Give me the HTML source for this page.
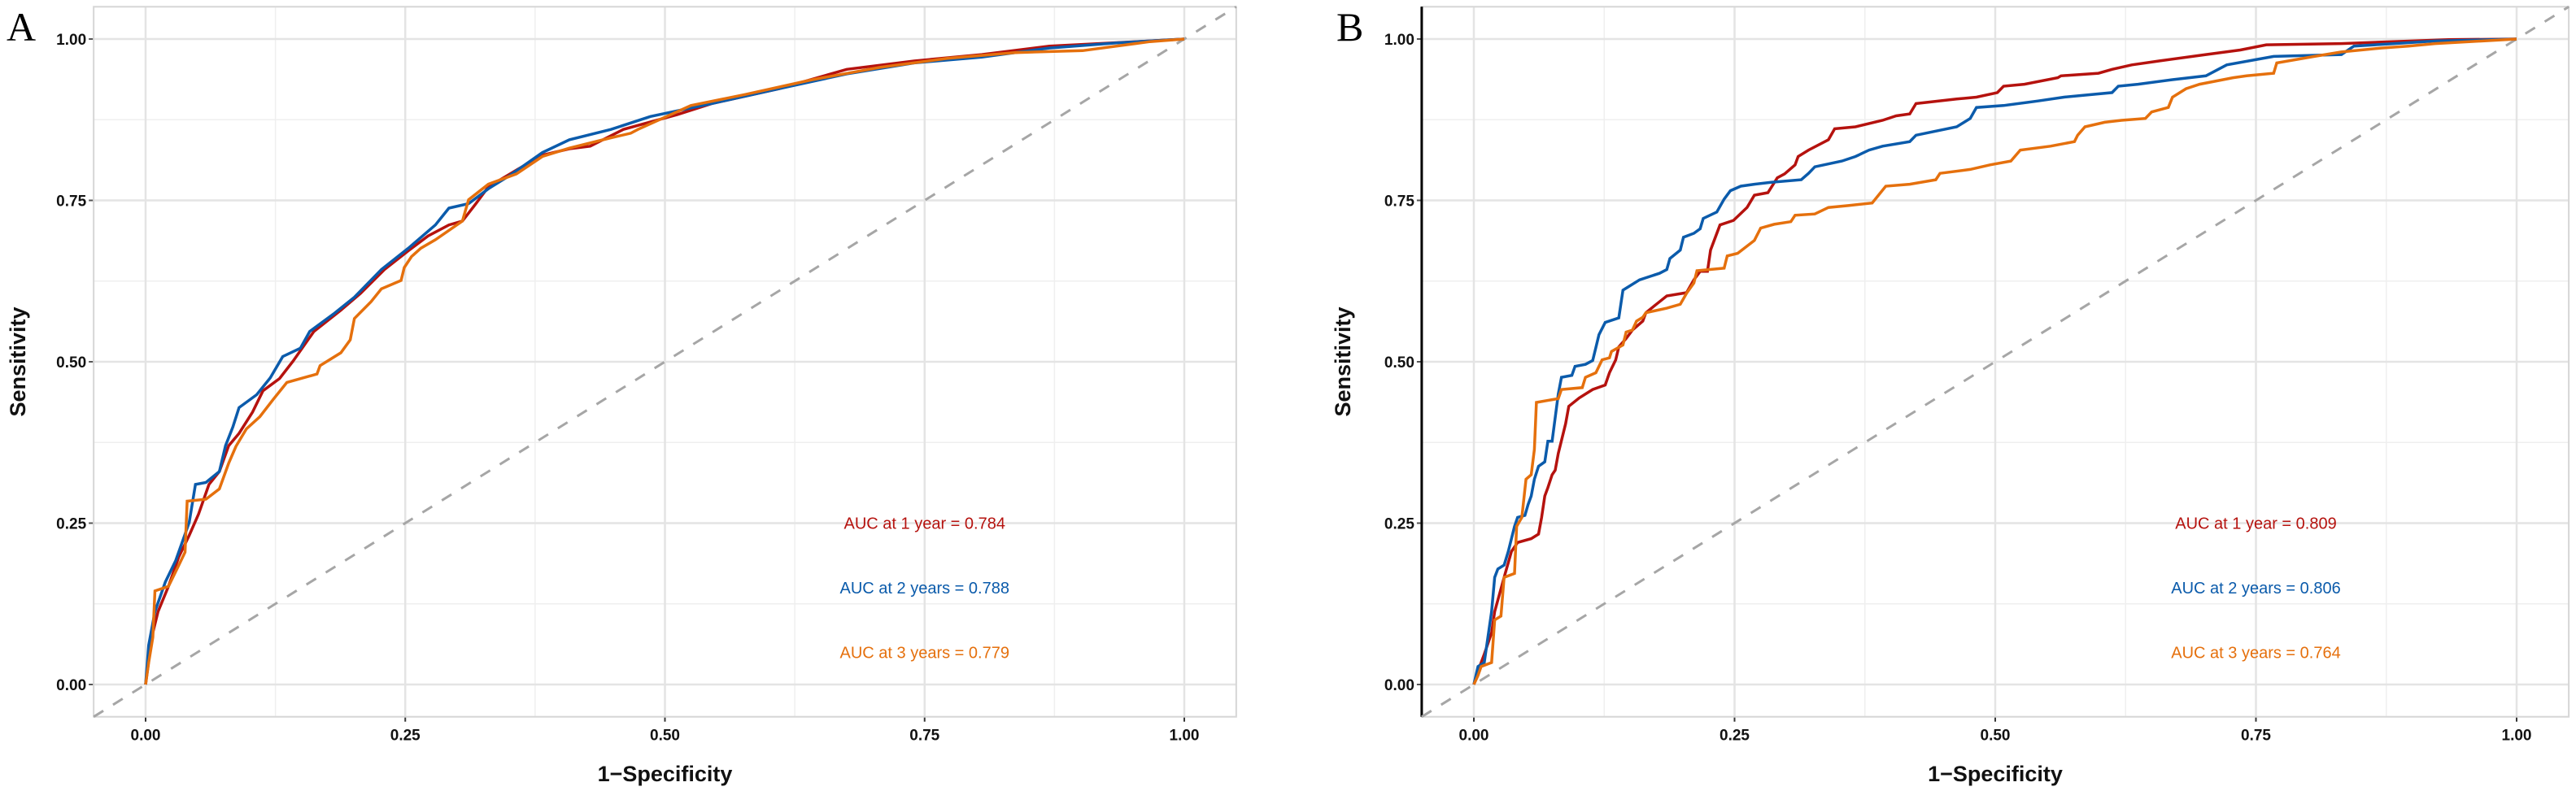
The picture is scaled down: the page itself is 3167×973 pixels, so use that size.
<!DOCTYPE html>
<html><head><meta charset="utf-8"><style>
html,body{margin:0;padding:0;background:#fff;}
svg{display:block;font-family:"Liberation Sans",sans-serif;}
</style></head><body>
<svg id="chart" width="3167" height="973" viewBox="0 0 3167 973" xmlns="http://www.w3.org/2000/svg"></svg>
<script>
// ---- data ----
const tickValues = [0, 0.25, 0.5, 0.75, 1];
const tickLabels = ["0.00", "0.25", "0.50", "0.75", "1.00"];
const panelLabels = ["A", "B"];
const seriesNames = ["1 year", "2 years", "3 years"];
const aucTextA = ["AUC at 1 year = 0.784", "AUC at 2 years = 0.788", "AUC at 3 years = 0.779"];
const aucTextB = ["AUC at 1 year = 0.809", "AUC at 2 years = 0.806", "AUC at 3 years = 0.764"];

const rocA_1yr = [[0,0],[0.006,0.074],[0.012,0.113],[0.022,0.152],[0.032,0.198],[0.042,0.231],[0.051,0.264],[0.061,0.310],[0.071,0.330],[0.080,0.370],[0.090,0.389],[0.103,0.422],[0.113,0.455],[0.129,0.474],[0.142,0.501],[0.162,0.547],[0.188,0.580],[0.207,0.606],[0.230,0.643],[0.253,0.672],[0.272,0.695],[0.292,0.712],[0.305,0.718],[0.318,0.745],[0.330,0.771],[0.357,0.797],[0.382,0.820],[0.408,0.830],[0.428,0.834],[0.460,0.860],[0.512,0.883],[0.545,0.900],[0.610,0.923],[0.675,0.953],[0.740,0.966],[0.805,0.976],[0.870,0.989],[0.954,0.996],[1,1]];
const rocA_2yr = [[0,0],[0.003,0.061],[0.009,0.113],[0.019,0.159],[0.029,0.192],[0.042,0.251],[0.048,0.310],[0.058,0.313],[0.071,0.330],[0.077,0.370],[0.084,0.399],[0.090,0.429],[0.107,0.449],[0.120,0.475],[0.132,0.508],[0.149,0.521],[0.158,0.547],[0.181,0.574],[0.201,0.600],[0.227,0.643],[0.253,0.676],[0.279,0.712],[0.292,0.738],[0.311,0.745],[0.330,0.768],[0.350,0.788],[0.382,0.824],[0.408,0.844],[0.448,0.860],[0.486,0.880],[0.545,0.900],[0.610,0.923],[0.675,0.946],[0.740,0.963],[0.805,0.972],[0.870,0.986],[0.935,0.994],[1,1]];
const rocA_3yr = [[0,0],[0.003,0.034],[0.007,0.073],[0.009,0.145],[0.022,0.152],[0.032,0.185],[0.038,0.205],[0.040,0.284],[0.058,0.287],[0.071,0.303],[0.080,0.343],[0.087,0.369],[0.097,0.396],[0.110,0.415],[0.123,0.442],[0.136,0.468],[0.165,0.481],[0.168,0.494],[0.188,0.514],[0.197,0.534],[0.201,0.567],[0.217,0.593],[0.227,0.613],[0.246,0.626],[0.249,0.646],[0.256,0.663],[0.265,0.676],[0.279,0.689],[0.305,0.718],[0.311,0.751],[0.330,0.775],[0.357,0.791],[0.382,0.818],[0.408,0.831],[0.448,0.847],[0.467,0.854],[0.474,0.860],[0.525,0.897],[0.577,0.914],[0.642,0.937],[0.707,0.956],[0.772,0.970],[0.837,0.979],[0.902,0.982],[0.967,0.996],[1,1]];

const rocB_1yr = [[0,0],[0.004,0.021],[0.010,0.047],[0.017,0.080],[0.020,0.113],[0.029,0.166],[0.036,0.206],[0.042,0.220],[0.055,0.226],[0.062,0.233],[0.065,0.259],[0.068,0.292],[0.071,0.305],[0.075,0.325],[0.078,0.332],[0.081,0.358],[0.088,0.404],[0.091,0.431],[0.101,0.444],[0.114,0.457],[0.126,0.464],[0.130,0.483],[0.136,0.503],[0.139,0.523],[0.146,0.536],[0.152,0.549],[0.162,0.563],[0.165,0.576],[0.175,0.589],[0.185,0.602],[0.204,0.607],[0.211,0.627],[0.217,0.640],[0.224,0.640],[0.227,0.673],[0.236,0.712],[0.249,0.719],[0.262,0.739],[0.269,0.758],[0.282,0.762],[0.291,0.785],[0.298,0.791],[0.308,0.805],[0.311,0.818],[0.321,0.828],[0.340,0.844],[0.346,0.861],[0.366,0.864],[0.392,0.874],[0.405,0.881],[0.418,0.884],[0.424,0.900],[0.463,0.907],[0.482,0.910],[0.502,0.917],[0.508,0.927],[0.528,0.930],[0.560,0.940],[0.563,0.943],[0.599,0.947],[0.612,0.953],[0.631,0.960],[0.657,0.966],[0.702,0.976],[0.735,0.983],[0.760,0.991],[0.832,0.993],[0.935,0.999],[1,1]];
const rocB_2yr = [[0,0],[0.004,0.028],[0.010,0.034],[0.017,0.113],[0.020,0.166],[0.023,0.179],[0.029,0.185],[0.033,0.206],[0.039,0.245],[0.042,0.259],[0.049,0.262],[0.052,0.279],[0.055,0.292],[0.058,0.318],[0.062,0.338],[0.068,0.345],[0.071,0.377],[0.075,0.377],[0.081,0.450],[0.084,0.476],[0.094,0.479],[0.097,0.493],[0.107,0.496],[0.114,0.502],[0.117,0.522],[0.120,0.542],[0.126,0.561],[0.139,0.568],[0.143,0.611],[0.146,0.614],[0.159,0.627],[0.178,0.637],[0.185,0.643],[0.188,0.660],[0.198,0.673],[0.201,0.693],[0.211,0.699],[0.217,0.706],[0.220,0.722],[0.233,0.732],[0.240,0.752],[0.246,0.765],[0.256,0.772],[0.269,0.775],[0.285,0.778],[0.314,0.782],[0.321,0.792],[0.327,0.802],[0.353,0.811],[0.366,0.818],[0.379,0.828],[0.392,0.834],[0.418,0.841],[0.424,0.851],[0.463,0.864],[0.476,0.877],[0.482,0.894],[0.508,0.897],[0.541,0.904],[0.566,0.910],[0.612,0.917],[0.618,0.927],[0.637,0.930],[0.670,0.937],[0.702,0.943],[0.722,0.960],[0.767,0.973],[0.832,0.976],[0.844,0.989],[0.883,0.993],[0.922,0.997],[1,1]];
const rocB_3yr = [[0,0],[0.004,0.014],[0.007,0.028],[0.017,0.034],[0.020,0.100],[0.026,0.106],[0.029,0.166],[0.039,0.172],[0.041,0.245],[0.046,0.259],[0.050,0.318],[0.055,0.325],[0.058,0.364],[0.060,0.437],[0.081,0.443],[0.084,0.457],[0.104,0.460],[0.107,0.476],[0.117,0.483],[0.123,0.503],[0.130,0.506],[0.132,0.516],[0.143,0.526],[0.146,0.546],[0.152,0.549],[0.156,0.563],[0.162,0.569],[0.165,0.576],[0.185,0.583],[0.198,0.589],[0.204,0.606],[0.211,0.622],[0.214,0.641],[0.240,0.645],[0.243,0.664],[0.253,0.668],[0.269,0.688],[0.275,0.707],[0.288,0.713],[0.304,0.717],[0.308,0.727],[0.327,0.729],[0.340,0.739],[0.359,0.742],[0.382,0.746],[0.395,0.772],[0.418,0.775],[0.443,0.782],[0.447,0.792],[0.476,0.798],[0.495,0.805],[0.515,0.811],[0.524,0.828],[0.553,0.834],[0.576,0.841],[0.579,0.851],[0.586,0.864],[0.605,0.871],[0.621,0.874],[0.644,0.877],[0.650,0.887],[0.666,0.894],[0.670,0.910],[0.683,0.923],[0.696,0.930],[0.728,0.940],[0.741,0.943],[0.767,0.947],[0.770,0.963],[0.806,0.973],[0.832,0.980],[0.870,0.986],[0.896,0.989],[0.922,0.993],[1,1]];

const seriesColors = ["#b5120e", "#0b5bab", "#e5700d"];
const NS = "http://www.w3.org/2000/svg";
const svg = document.getElementById("chart");
function mk(tag, attrs, parent){ const e=document.createElementNS(NS,tag); for(const k in attrs) e.setAttribute(k,attrs[k]); (parent||svg).appendChild(e); return e; }

function drawPanel(cfg){
  const g = mk("g", {});
  
  
  const x0=cfg.x0, x1=cfg.x1, y0=842, y1=48;
  const sx = v => x0 + v*(x1-x0);
  const sy = v => y0 - v*(y0-y1);
  const L = sx(-0.05), R = sx(1.05), T = sy(1.05), B = sy(-0.05);
  mk("rect",{x:L,y:T,width:R-L,height:B-T,fill:"#fff"},g);
  [0.125,0.375,0.625,0.875].forEach(v=>{
    mk("line",{x1:sx(v),x2:sx(v),y1:T,y2:B,stroke:"#efefef","stroke-width":1.5},g);
    mk("line",{x1:L,x2:R,y1:sy(v),y2:sy(v),stroke:"#efefef","stroke-width":1.5},g);
  });
  tickValues.forEach((v,i)=>{
    mk("line",{x1:sx(v),x2:sx(v),y1:T,y2:B,stroke:"#e4e4e4","stroke-width":2.5},g);
    mk("line",{x1:L,x2:R,y1:sy(v),y2:sy(v),stroke:"#e4e4e4","stroke-width":2.5},g);
    mk("line",{x1:sx(v),x2:sx(v),y1:B,y2:B+6,stroke:"#333","stroke-width":2},g);
    mk("line",{x1:L-6,x2:L,y1:sy(v),y2:sy(v),stroke:"#555","stroke-width":2},g);
    const tx = mk("text",{x:sx(v),y:B+29,"text-anchor":"middle","font-size":19,"font-weight":"bold",fill:"#111"},g);
    tx.textContent = tickLabels[i];
    
    
    const ty = mk("text",{x:L-9,y:sy(v)+7,"text-anchor":"end","font-size":19,"font-weight":"bold",fill:"#111"},g);
    ty.textContent = tickLabels[i];
    
    
  });
  mk("rect",{x:L,y:T,width:R-L,height:B-T,fill:"none",stroke:"#d6d6d6","stroke-width":2},g);
  if(cfg.blackAxis) mk("line",{x1:L,x2:L,y1:T,y2:B,stroke:"#000","stroke-width":3},g);
  const d = mk("line",{x1:sx(-0.05),y1:sy(-0.05),x2:sx(1.05),y2:sy(1.05),stroke:"#a6a6a6","stroke-width":3,"stroke-dasharray":"14 14"},g);
  
  
  cfg.series.forEach((s,i)=>{
    const p = mk("polyline",{points:s.map(pt=>sx(pt[0]).toFixed(1)+","+sy(pt[1]).toFixed(1)).join(" "),fill:"none",stroke:seriesColors[i],"stroke-width":3.5,"stroke-linejoin":"miter"},g);
    
    
  });
  [0.25,0.15,0.05].forEach((yv,i)=>{
    const t = mk("text",{x:sx(0.75),y:sy(yv)+7,"text-anchor":"middle","font-size":20,fill:seriesColors[i]},g);
    t.textContent = cfg.auc[i];
    
    
  });
  const xt = mk("text",{x:sx(0.5),y:961,"text-anchor":"middle","font-size":27,"font-weight":"bold",fill:"#111"},g);
  xt.textContent = "1\u2212Specificity";
  
  
  const yt = mk("text",{x:0,y:0,"text-anchor":"middle","font-size":27,"font-weight":"bold",fill:"#111",transform:`translate(${cfg.yTitleX},${sy(0.5)}) rotate(-90)`},g);
  yt.textContent = "Sensitivity";
  
  
  const pl = mk("text",{x:cfg.labelX,y:50,"font-size":50,"font-family":"Liberation Serif, serif",fill:"#000"},g);
  pl.textContent = cfg.label;
  
  
}

drawPanel({name:"panel-a",x0:179,x1:1456,series:[rocA_1yr,rocA_2yr,rocA_3yr],auc:aucTextA,yTitleX:31,label:panelLabels[0],labelX:8,blackAxis:false});
drawPanel({name:"panel-b",x0:1812,x1:3094,series:[rocB_1yr,rocB_2yr,rocB_3yr],auc:aucTextB,yTitleX:1660,label:panelLabels[1],labelX:1643,blackAxis:true});
</script>
</body></html>
